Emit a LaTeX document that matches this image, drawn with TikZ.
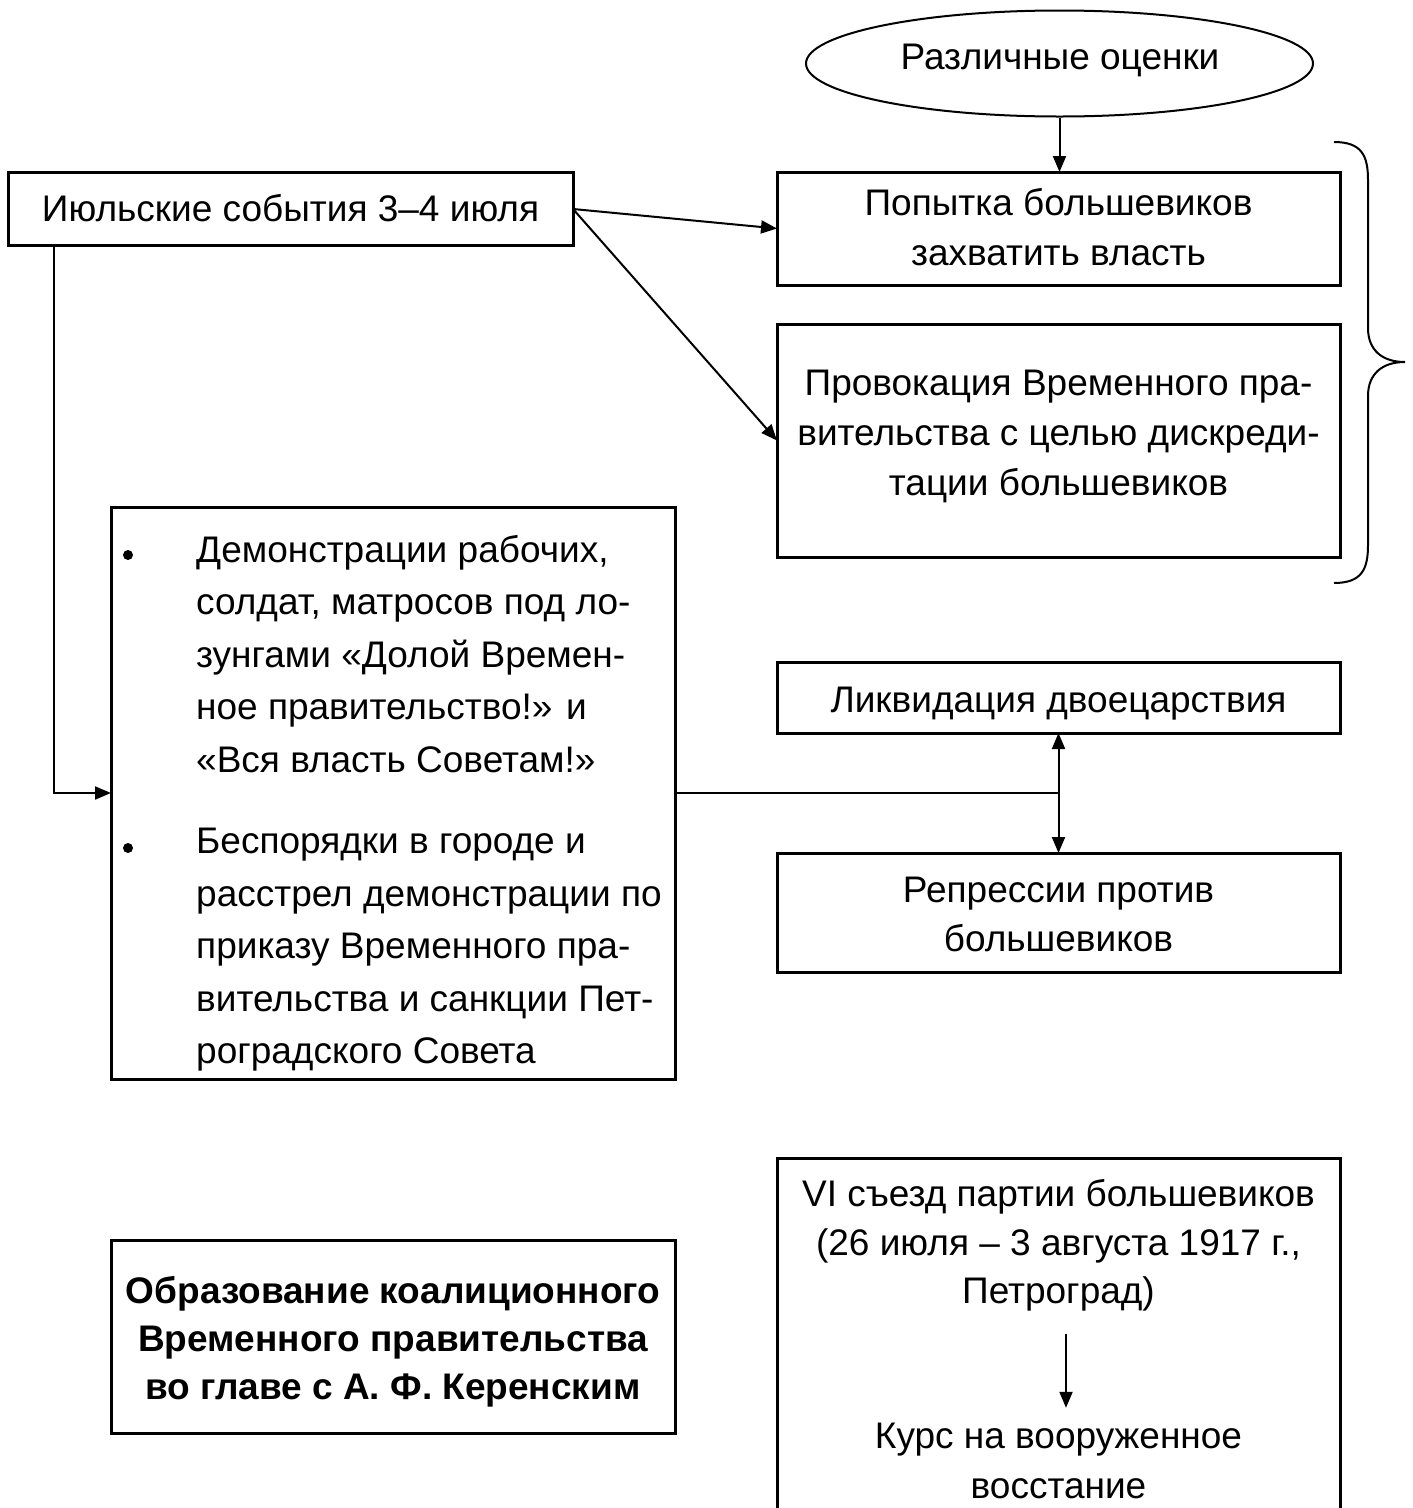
\documentclass[tikz,border=0pt]{standalone}
\usepackage{fontspec}
\setmainfont{Liberation Sans}
\usetikzlibrary{arrows.meta,shapes.geometric}
\newcommand{\lstrut}{\rule[-6pt]{0pt}{36pt}}
% strut with extra height (moves text down by half of it)
\newcommand{\hstrut}[1]{\rule[-6pt]{0pt}{\dimexpr36pt+#1\relax}}
% strut with extra depth (moves text up by half of it)
\newcommand{\dstrut}[1]{\rule[\dimexpr-6pt-#1\relax]{0pt}{\dimexpr36pt+#1\relax}}
\tikzset{
  box/.style={draw, line width=3pt, rectangle, inner sep=0pt, outer sep=0pt, align=center,
    font=\fontsize{37}{49}\selectfont},
  txt/.style={inner sep=0pt, align=center, font=\fontsize{37}{48.5}\selectfont},
  ptxt/.style={inner sep=0pt, align=left, font=\fontsize{37}{52.5}\selectfont},
  dot/.style={circle, fill, inner sep=0pt, minimum size=10pt},
  conn/.style={line width=2pt},
  tip/.tip={Triangle[length=16pt,width=13pt]},
  arr/.style={conn, -tip},
  darr/.style={conn, tip-tip},
}
\begin{document}
\begin{tikzpicture}[x=1pt,y=-1pt]
\useasboundingbox (0,0) rectangle (1413,1508);
% ellipse
\node[draw, ellipse, line width=2pt, minimum width=507pt, minimum height=106pt, inner sep=0pt] (ov) at (1059.5,63.5) {};
\node[txt] (ovt) at (1060,58) {\lstrut Различные оценки\lstrut};
% boxes
\node[box, minimum width=565pt, minimum height=73pt] (A) at (290.5,209) {\lstrut Июльские события 3–4 июля\lstrut};
\node[box, minimum width=563pt, minimum height=113pt, font=\fontsize{37}{50}\selectfont] (C) at (1058.5,228.5) {\lstrut Попытка большевиков\\ \lstrut захватить власть};
\node[box, minimum width=563pt, minimum height=233pt, font=\fontsize{37}{50}\selectfont] (D) at (1058.5,440.5) {\lstrut Провокация Временного пра-\\ вительства с целью дискреди-\\ \dstrut{15pt}тации большевиков};
\node[box, minimum width=563pt, minimum height=71pt] (E) at (1058.5,697.5) {\hstrut{8pt}Ликвидация двоецарствия\lstrut};
\node[box, minimum width=563pt, minimum height=119pt] (F) at (1058.5,912.5) {\hstrut{4pt}Репрессии против\\ \lstrut большевиков};
\node[box, minimum width=564pt, minimum height=572pt] (B) at (393,793) {};
\node[box, minimum width=564pt, minimum height=193pt, font=\fontsize{37}{48}\selectfont\bfseries] (G) at (393,1336.5) {\hstrut{8pt}Образование коалиционного\\ Временного правительства\\ \lstrut во главе с А. Ф. Керенским};
\node[box, minimum width=563pt, minimum height=382pt] (H) at (1058.5,1349) {};
% list in B
\node[dot] (d1) at (128,555) {};
\node[dot] (d2) at (128,848) {};
\node[ptxt, anchor=west] (b1) at (196,655) {\lstrut Демонстрации рабочих,\\ солдат, матросов под ло-\\ зунгами «Долой Времен-\\ ное правительство!» и\\ \lstrut «Вся власть Советам!»};
\node[ptxt, anchor=west] (b2) at (196,947.5) {\lstrut Беспорядки в городе и\\ расстрел демонстрации по\\ приказу Временного пра-\\ вительства и санкции Пет-\\ \lstrut роградского Совета};
% texts in H
\node[txt] (h1) at (1058.5,1244) {\lstrut VI съезд партии большевиков\\ (26 июля – 3 августа 1917 г.,\\ \lstrut Петроград)};
\node[txt, font=\fontsize{37}{50}\selectfont] (h2) at (1058.5,1461) {\lstrut Курс на вооруженное\\ \lstrut восстание};
% connectors
\draw[arr] (ov.south) -- (ov.south |- C.north);
\draw[arr] (A.east) -- (C.west);
\draw[arr] (A.east) -- (D.west);
\draw[arr] ([xshift=46pt]A.south west) |- (B.west);
\draw[conn] (B.east) -- (B.east -| E.south);
\draw[darr] (E.south) -- (F.north);
\draw[arr] ([xshift=7.5pt]h1.south) ++(0,22) -- ([xshift=7.5pt,yshift=10pt]h2.north);
% brace
\draw[conn] (1334,142) .. controls (1362,142) and (1368,156) .. (1368,180) -- (1368,328)
  .. controls (1368,350) and (1382,362) .. (1405,362)
  .. controls (1382,362) and (1368,374) .. (1368,396) -- (1368,545)
  .. controls (1368,569) and (1362,583) .. (1334,583);
\end{tikzpicture}
\end{document}
